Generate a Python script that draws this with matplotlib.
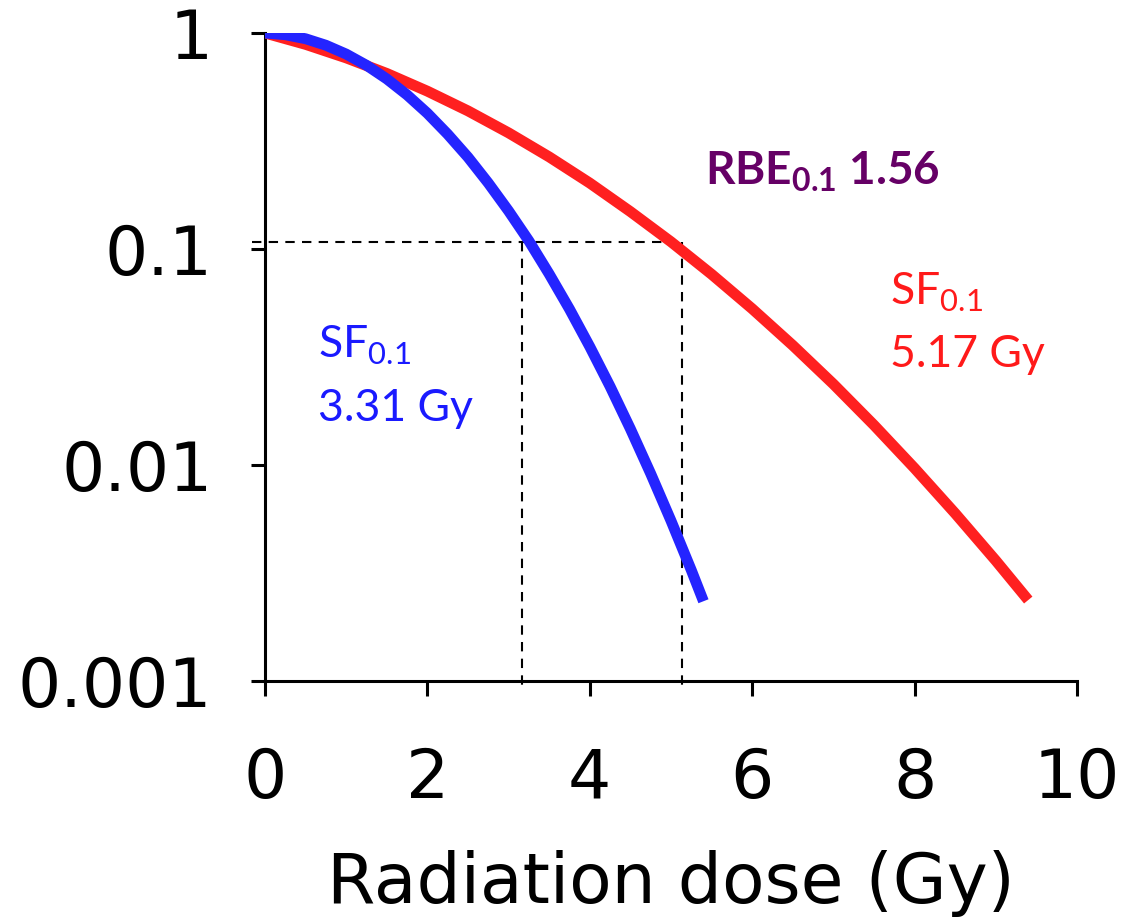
import matplotlib.pyplot as plt

# -----------------------------
# Survival data (dose in Gy, surviving fraction)
# -----------------------------
dose_blue = [0, 0.25, 0.5, 0.75, 1.0, 1.25, 1.5, 1.75, 2.0, 2.25, 2.5, 2.75,
             3.0, 3.25, 3.5, 3.75, 4.0, 4.25, 4.5, 4.75, 5.0, 5.25, 5.4]
sf_blue = [1.0, 0.982, 0.941, 0.878, 0.799, 0.709, 0.613, 0.517, 0.425, 0.340,
           0.266, 0.202, 0.150, 0.109, 0.0766, 0.0527, 0.0353, 0.0231, 0.0147,
           0.00912, 0.00552, 0.00326, 0.00234]

dose_red = [0, 0.5, 1.0, 1.5, 2.0, 2.5, 3.0, 3.5, 4.0, 4.5, 5.0, 5.5, 6.0,
            6.5, 7.0, 7.5, 8.0, 8.5, 9.0, 9.4]
sf_red = [1.0, 0.886, 0.767, 0.650, 0.538, 0.436, 0.345, 0.267, 0.202, 0.149,
          0.108, 0.0764, 0.0529, 0.0358, 0.0237, 0.0153, 0.00966, 0.00597,
          0.00361, 0.00237]

# SF 0.1 reference lines
sf_level = 0.108
dose_sf_blue = 3.17
dose_sf_red = 5.13

x_ticks = [0, 2, 4, 6, 8, 10]
y_ticks = [0.001, 0.01, 0.1, 1]
y_tick_labels = ["0.001", "0.01", "0.1", "1"]

# -----------------------------
# Figure
# -----------------------------
plt.rcParams["mathtext.fontset"] = "custom"
plt.rcParams["mathtext.rm"] = "Lato"
plt.rcParams["mathtext.bf"] = "Lato:bold"

fig = plt.figure(figsize=(11.23, 9.23), dpi=100)
ax = fig.add_axes([0.236, 0.2622, 0.723, 0.702])

ax.plot(dose_red, sf_red, color="#ff2020", lw=7.8, solid_capstyle="butt", zorder=3)
ax.plot(dose_blue, sf_blue, color="#2424ff", lw=7.8, solid_capstyle="butt", zorder=4)

dash = dict(color="black", lw=1.5, dashes=(4.5, 3.5), clip_on=False, zorder=2)
ax.plot([-0.16, dose_sf_red], [sf_level, sf_level], **dash)
ax.plot([dose_sf_blue, dose_sf_blue], [sf_level, 0.00093], **dash)
ax.plot([dose_sf_red, dose_sf_red], [sf_level, 0.00093], **dash)

ax.set_yscale("log")
ax.set_xlim(0, 10)
ax.set_ylim(0.001, 1)

ax.spines["top"].set_visible(False)
ax.spines["right"].set_visible(False)
ax.spines["left"].set_linewidth(2.2)
ax.spines["bottom"].set_linewidth(2.2)

ax.set_xticks(x_ticks)
ax.set_xticklabels([str(t) for t in x_ticks], fontsize=49, fontfamily="DejaVu Sans")
ax.set_yticks(y_ticks)
ax.set_yticklabels(y_tick_labels, fontsize=49, fontfamily="DejaVu Sans")
ax.minorticks_off()
ax.tick_params(axis="x", direction="out", length=11, width=2.2, pad=36)
ax.tick_params(axis="y", direction="out", length=10, width=2.2, pad=28)

ax.set_xlabel("Radiation dose (Gy)", fontsize=50, fontfamily="DejaVu Sans",
              labelpad=27)

# Annotations
ax.text(0.65, 0.0315, r"SF$_{\mathrm{0.1}}$", color="#1a1aff", fontsize=32,
        fontfamily="Lato", va="baseline")
ax.text(0.65, 0.016, "3.31 Gy", color="#1a1aff", fontsize=32,
        fontfamily="Lato", va="baseline")
ax.text(7.70, 0.0551, r"SF$_{\mathrm{0.1}}$", color="#ff1a1a", fontsize=32,
        fontfamily="Lato", va="baseline")
ax.text(7.70, 0.0285, "5.17 Gy", color="#ff1a1a", fontsize=32,
        fontfamily="Lato", va="baseline")
ax.text(5.42, 0.198, r"RBE$_{\mathbf{0.1}}$ 1.56", color="#660066", fontsize=33,
        fontfamily="Lato", fontweight="bold", va="baseline")

plt.savefig("out.png", dpi=100)
